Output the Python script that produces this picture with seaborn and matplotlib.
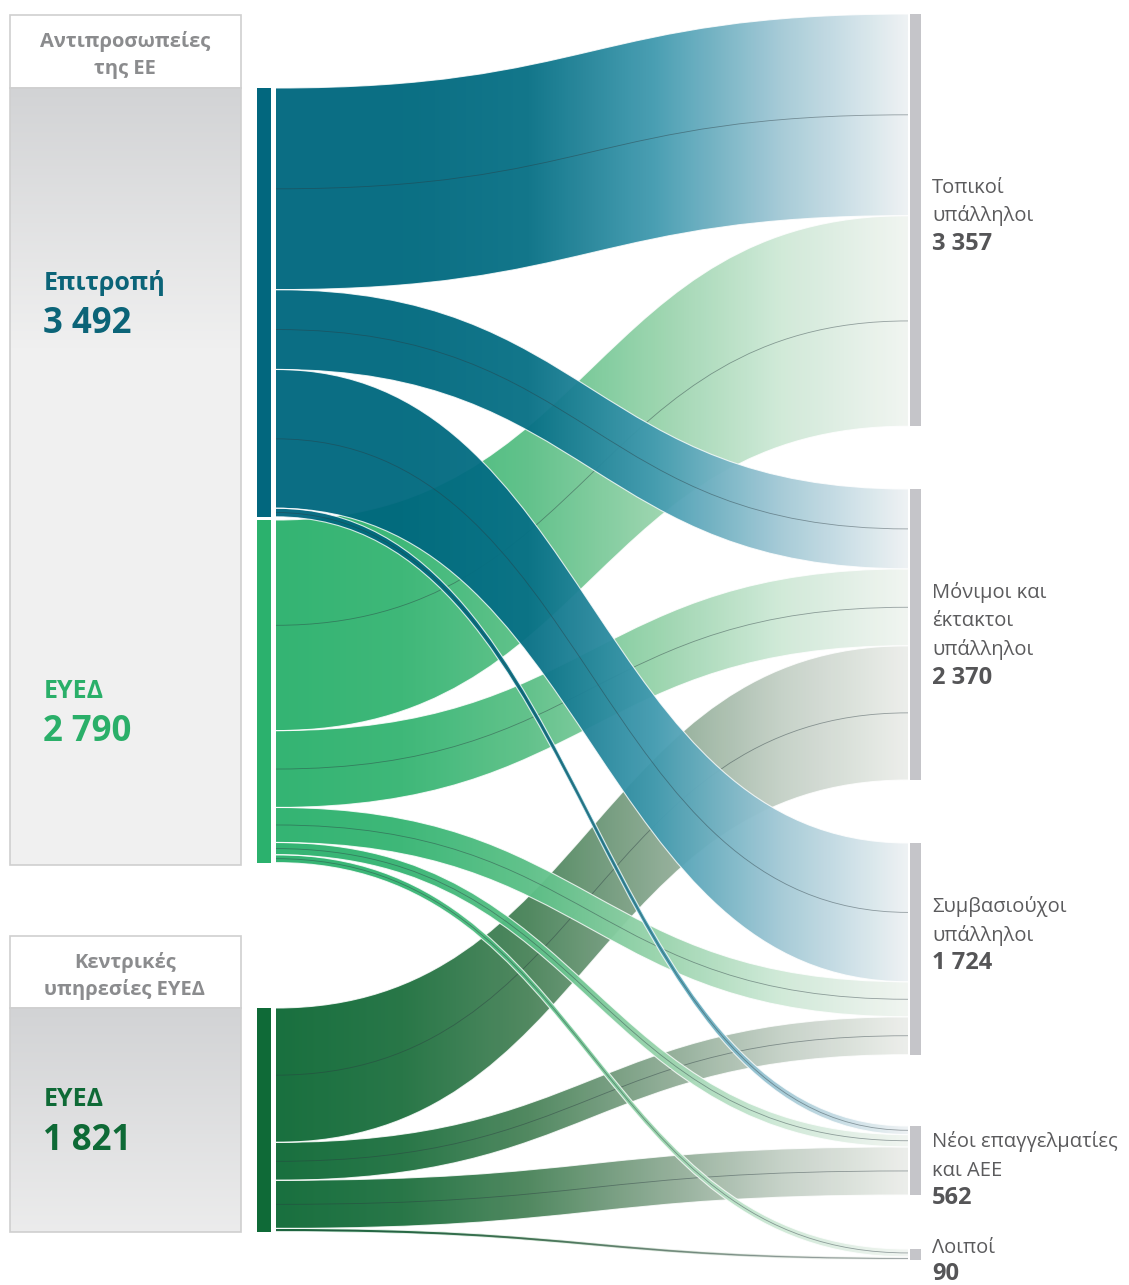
import numpy as np
import matplotlib.pyplot as plt
import seaborn as sns
from matplotlib.path import Path
from matplotlib.patches import PathPatch, Rectangle
from matplotlib.colors import to_rgb

# --- data -------------------------------------------------------------
groups = ["Αντιπροσωπείες\nτης ΕΕ", "Κεντρικές\nυπηρεσίες ΕΥΕΔ"]
sources = ["Επιτροπή", "ΕΥΕΔ", "ΕΥΕΔ"]
source_totals = [3492, 2790, 1821]
source_numbers = ["3 492", "2 790", "1 821"]

targets = ["Τοπικοί\nυπάλληλοι", "Μόνιμοι και\nέκτακτοι\nυπάλληλοι",
           "Συμβασιούχοι\nυπάλληλοι", "Νέοι επαγγελματίες\nκαι ΑΕΕ", "Λοιποί"]
target_totals = [3357, 2370, 1724, 562, 90]
target_numbers = ["3 357", "2 370", "1 724", "562", "90"]

# staff from each source (rows) to each category (columns, same order as targets)
commission = [1642, 650, 1130, 70, 0]
eeas_delegations = [1715, 626, 285, 100, 64]
eeas_hq = [0, 1094, 309, 392, 26]
flows = [commission, eeas_delegations, eeas_hq]

# --- style / layout ---------------------------------------------------
sns.set_theme(style="white")
plt.rcParams['font.family'] = ['Open Sans', 'DejaVu Sans']

src_colors = ["#02677e", "#2bb16d", "#0f6a37"]
src_label_colors = ["#0b6478", "#2aaf69", "#0e6a36"]
cmaps = [
    sns.blend_palette(["#00677e", "#00697f", "#087186", "#429bb0", "#a3c9d6", "#eef2f4"], as_cmap=True),
    sns.blend_palette(["#2bb16d", "#36b573", "#5cc087", "#97d3ab", "#cfe9d7", "#f1f5f1"], as_cmap=True),
    sns.blend_palette(["#0e6a36", "#1f7140", "#4a845a", "#88a78f", "#c4d0c6", "#eceeea"], as_cmap=True),
]
draw_order = [2, 1, 0]
alphas = [0.96, 0.96, 0.96]

scale = 0.1228            # pixels per person
src_top = [88, 520, 1008]
tgt_top = [14, 489, 843, 1126, 1249]
x_flow0, x_flow1 = 276, 908

fig = plt.figure(figsize=(11.29, 12.85), dpi=100)
ax = fig.add_axes([0, 0, 1, 1])


def curve(x0, x1, y0, y1):
    xm = (x0 + x1) / 2
    return [(x0, y0), (xm, y0), (xm, y1), (x1, y1)]


def draw_band(x0, x1, ya0, yb0, ya1, yb1, cmap, alpha, z):
    top = curve(x0, x1, ya0, ya1)
    bot = curve(x1, x0, yb1, yb0)
    verts = top + bot + [top[0]]
    codes = [Path.MOVETO, Path.CURVE4, Path.CURVE4, Path.CURVE4,
             Path.LINETO, Path.CURVE4, Path.CURVE4, Path.CURVE4, Path.CLOSEPOLY]
    patch = PathPatch(Path(verts, codes), facecolor='none', edgecolor='none')
    ax.add_patch(patch)
    grad = cmap(np.linspace(0, 1, 256))[None, :, :].copy()
    grad[..., 3] = alpha
    ymin, ymax = min(ya0, ya1), max(yb0, yb1)
    im = ax.imshow(grad, extent=(x0, x1, ymax, ymin), aspect='auto',
                   interpolation='bilinear', zorder=z)
    im.set_clip_path(patch)
    c4 = [Path.MOVETO, Path.CURVE4, Path.CURVE4, Path.CURVE4]
    for edge in (top, bot):
        ax.add_patch(PathPatch(Path(edge, c4), fill=False, edgecolor='white',
                               lw=0.8, alpha=0.8, zorder=z + 0.1))
    mid = curve(x0, x1, (ya0 + yb0) / 2, (ya1 + yb1) / 2)
    ax.add_patch(PathPatch(Path(mid, c4), fill=False, edgecolor='#2a3a40',
                           lw=0.6, alpha=0.45, zorder=z + 0.2))


# flow positions on both sides
src_off = [list() for _ in flows]
tgt_cursor = list(tgt_top)
for i, row in enumerate(flows):
    cur = src_top[i]
    for j, v in enumerate(row):
        h = v * scale
        src_off[i].append((cur, cur + h, tgt_cursor[j], tgt_cursor[j] + h))
        cur += h
        tgt_cursor[j] += h

for k, i in enumerate(draw_order):
    for j, v in enumerate(flows[i]):
        if v <= 0:
            continue
        ya0, yb0, ya1, yb1 = src_off[i][j]
        draw_band(x_flow0, x_flow1, ya0, yb0, ya1, yb1, cmaps[i], alphas[i], 2 + k)

# source bars
for i, tot in enumerate(source_totals):
    ax.add_patch(Rectangle((257, src_top[i]), 14, tot * scale,
                           facecolor=src_colors[i], edgecolor='none', zorder=6))

# target bars
for j, tot in enumerate(target_totals):
    ax.add_patch(Rectangle((910, tgt_top[j]), 11, tot * scale,
                           facecolor='#c5c5c9', edgecolor='none', zorder=6))

# group boxes on the left
box_head = [(15, 88), (936, 1008)]
box_body = [(88, 865), (1008, 1232)]
c_top, c_bot = np.array(to_rgb("#d2d3d5")), np.array(to_rgb("#f0f0f0"))
for g, name in enumerate(groups):
    h0, h1 = box_head[g]
    ax.add_patch(Rectangle((10, h0), 231, h1 - h0, facecolor='white',
                           edgecolor='#cfcfcf', lw=1.2, zorder=1))
    b0, b1 = box_body[g]
    rect = Rectangle((10, b0), 231, b1 - b0, facecolor='none',
                     edgecolor='#cfcfcf', lw=1.2, zorder=1.5)
    ax.add_patch(rect)
    ys = np.arange(b0, b1)
    t = np.clip((ys - b0) / 260.0, 0, 1)[:, None]
    col = (c_top * (1 - t) + c_bot * t)[:, None, :]
    im = ax.imshow(col, extent=(10, 241, b1, b0), aspect='auto', zorder=1)
    im.set_clip_path(rect)
    lines = name.split("\n")
    for n, line in enumerate(lines):
        ax.text(125, h0 + 32 + n * 27, line, ha='center', va='baseline',
                fontsize=14.5, fontweight='bold', color='#8b8c8e', zorder=7)

# source labels
name_base = [290, 698, 1106]
num_base = [333, 741, 1150]
for i, name in enumerate(sources):
    ax.text(44, name_base[i], name, ha='left', va='baseline', fontsize=18,
            fontweight='bold', color=src_label_colors[i], zorder=7)
    ax.text(43, num_base[i], source_numbers[i], ha='left', va='baseline',
            fontsize=25, fontweight='bold', color=src_label_colors[i], zorder=7)

# target labels
tgt_base = [193, 598, 912, 1147, 1253]
for j, name in enumerate(targets):
    lines = name.split("\n")
    y = tgt_base[j]
    for line in lines:
        ax.text(932, y, line, ha='left', va='baseline', fontsize=14.5,
                color='#5b5b5d', zorder=7)
        y += 28.5
    ax.text(932, min(y, 1280), target_numbers[j], ha='left', va='baseline',
            fontsize=17, fontweight='bold', color='#555557', zorder=7)

ax.set_xlim(0, 1129)
ax.set_ylim(1285, 0)
ax.axis('off')

fig.savefig("out.png", dpi=100)
